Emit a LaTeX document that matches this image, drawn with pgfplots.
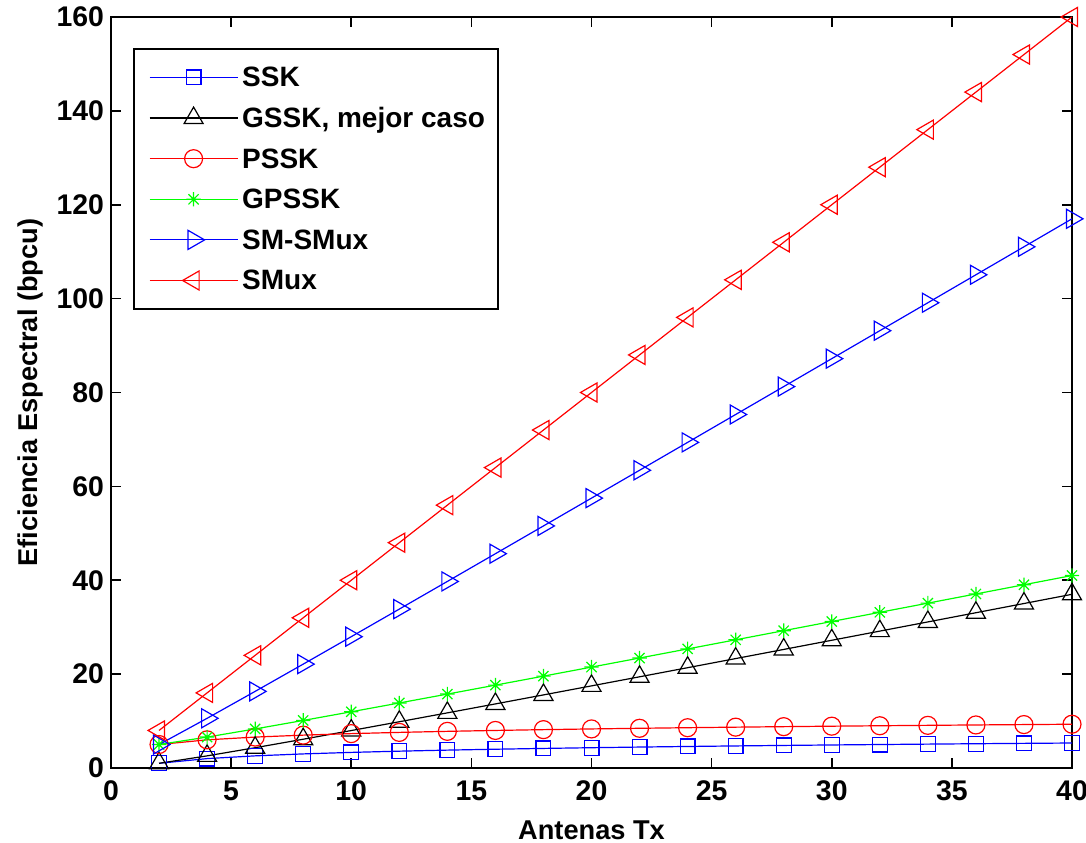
\documentclass[border=0pt]{standalone}
\usepackage{pgfplots}
\pgfplotsset{compat=1.18}
\usepackage{fontspec}
\setmainfont{Liberation Sans}

% eight-armed asterisk (plus and cross)
\pgfdeclareplotmark{mstar}{%
  \pgfpathmoveto{\pgfqpoint{-\pgfplotmarksize}{0pt}}%
  \pgfpathlineto{\pgfqpoint{\pgfplotmarksize}{0pt}}%
  \pgfpathmoveto{\pgfqpoint{0pt}{-\pgfplotmarksize}}%
  \pgfpathlineto{\pgfqpoint{0pt}{\pgfplotmarksize}}%
  \pgfpathmoveto{\pgfqpoint{-0.707\pgfplotmarksize}{-0.707\pgfplotmarksize}}%
  \pgfpathlineto{\pgfqpoint{0.707\pgfplotmarksize}{0.707\pgfplotmarksize}}%
  \pgfpathmoveto{\pgfqpoint{-0.707\pgfplotmarksize}{0.707\pgfplotmarksize}}%
  \pgfpathlineto{\pgfqpoint{0.707\pgfplotmarksize}{-0.707\pgfplotmarksize}}%
  \pgfusepathqstroke}

\definecolor{mblue}{RGB}{0,0,255}
\definecolor{mred}{RGB}{255,0,0}
\definecolor{mgreen}{RGB}{0,255,0}

\pgfplotstableread{
n   ssk    gssk    pssk   gpssk   smsmux   smux
2   1.000  1.000   5.000  5.000   5.000    8
4   2.000  2.585   6.000  6.585   10.585   16
6   2.585  4.322   6.585  8.322   16.322   24
8   3.000  6.129   7.000  10.129  22.129   32
10  3.322  7.977   7.322  11.977  27.977   40
12  3.585  9.852   7.585  13.852  33.852   48
14  3.807  11.745  7.807  15.745  39.745   56
16  4.000  13.652  8.000  17.652  45.652   64
18  4.170  15.569  8.170  19.569  51.569   72
20  4.322  17.495  8.322  21.495  57.495   80
22  4.459  19.428  8.459  23.428  63.428   88
24  4.585  21.367  8.585  25.367  69.367   96
26  4.700  23.310  8.700  27.310  75.310   104
28  4.807  25.258  8.807  29.258  81.258   112
30  4.907  27.209  8.907  31.209  87.209   120
32  5.000  29.163  9.000  33.163  93.163   128
34  5.087  31.120  9.087  35.120  99.120   136
36  5.170  33.079  9.170  37.079  105.079  144
38  5.248  35.041  9.248  39.041  111.041  152
40  5.322  37.004  9.322  41.004  117.004  160
}\datatable

\begin{document}
\begin{tikzpicture}
\begin{axis}[
  name=ax,
  scale only axis,
  width=480.5pt, height=375.5pt,
  xmin=0, xmax=40, ymin=0, ymax=160,
  xtick={0,5,...,40}, ytick={0,20,...,160},
  tick align=inside,
  major tick length=5pt,
  axis line style={line width=1pt},
  every tick/.style={black, line width=0.8pt},
  /pgf/number format/assume math mode=true,
  tick label style={font=\bfseries\fontsize{14.2}{16}\selectfont},
  xticklabel style={yshift=-3pt},
  label style={font=\bfseries\fontsize{13.6}{15}\selectfont},
  xlabel={Antenas Tx},
  xlabel style={yshift=-3pt},
  ylabel={Eficiencia Espectral (bpcu)},
  every axis plot/.append style={line width=0.6pt, mark options={solid, line width=0.6pt}},
  legend cell align=left,
  legend style={
    at={(0,1)}, anchor=north west, xshift=11pt, yshift=-15.5pt,
    draw=black, line width=1pt,
    font=\bfseries\fontsize{14}{16}\selectfont,
    row sep=1.8pt, inner xsep=4.5pt, inner ysep=5pt,
    nodes={inner sep=2pt, text height=12pt, text depth=2.5pt},
    /tikz/every even column/.append style={column sep=3pt},
  },
  legend image code/.code={%
    \path (-3pt,0pt);
    \draw[mark repeat=2, mark phase=2, line width=0.6pt, #1]
      plot coordinates {(0pt,0pt) (22pt,0pt) (44pt,0pt)};},
  clip=false,
]
\addplot[mblue, mark=square, mark size=3.7pt] table[x=n, y=ssk] {\datatable};
\addlegendentry{SSK}
\addplot[black, mark=triangle, mark size=5.5pt] table[x=n, y=gssk] {\datatable};
\addlegendentry{GSSK, mejor caso}
\addplot[mred, mark=o, mark size=4.5pt] table[x=n, y=pssk] {\datatable};
\addlegendentry{PSSK}
\addplot[mgreen, mark=mstar, mark size=3.6pt] table[x=n, y=gpssk] {\datatable};
\addlegendentry{GPSSK}
\addplot[mblue, mark=triangle, mark size=5.5pt, mark options={rotate=-90}] table[x=n, y=smsmux] {\datatable};
\addlegendentry{SM-SMux}
\addplot[mred, mark=triangle, mark size=5.5pt, mark options={rotate=90}] table[x=n, y=smux] {\datatable};
\addlegendentry{SMux}
\end{axis}
\pgfresetboundingbox
\path[use as bounding box] ([shift={(-55.5pt,-37.5pt)}]ax.south west) rectangle ([shift={(7pt,8.5pt)}]ax.north east);
\end{tikzpicture}
\end{document}
